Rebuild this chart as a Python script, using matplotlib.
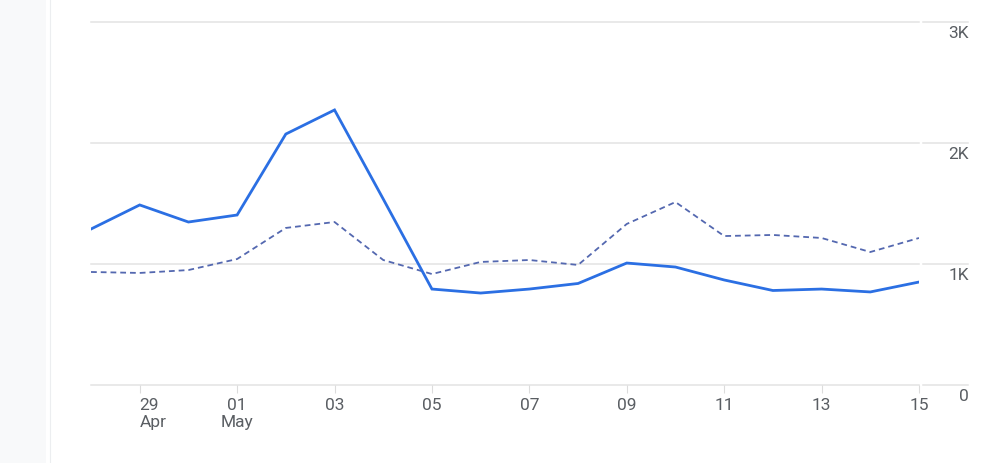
import matplotlib
matplotlib.use("Agg")
import matplotlib.pyplot as plt
import matplotlib.transforms as mtransforms
from matplotlib.patches import Rectangle

dates = ["Apr 28", "Apr 29", "Apr 30", "May 01", "May 02", "May 03", "May 04", "May 05",
         "May 06", "May 07", "May 08", "May 09", "May 10", "May 11", "May 12", "May 13",
         "May 14", "May 15"]
current = [1289, 1488, 1347, 1405, 2074, 2273, 1537, 793, 760, 793, 839, 1008, 975,
           868, 781, 793, 769, 851]
previous = [934, 926, 950, 1041, 1298, 1347, 1033, 917, 1017, 1033, 992, 1331, 1512,
            1231, 1240, 1215, 1099, 1215]
xtick_idx = [1, 3, 5, 7, 9, 11, 13, 15, 17]
xtick_labels = ["29\nApr", "01\nMay", "03", "05", "07", "09", "11", "13", "15"]
ytick_vals = [0, 1000, 2000, 3000]
ytick_labels = ["0", "1K", "2K", "3K"]

W, H = 1000, 464
fig = plt.figure(figsize=(W / 100, H / 100), dpi=100)
fig.patch.set_facecolor("white")

# left side panel
fig.patches.append(Rectangle((0, 0), 46 / W, 1, transform=fig.transFigure,
                             facecolor="#f8f9fa", edgecolor="none", zorder=0))
fig.lines.append(plt.Line2D([49.5 / W, 49.5 / W], [0, 1], transform=fig.transFigure,
                            color="#eceef0", lw=0.8))

left, right = 91, 919
y0px, y3px = 386, 23
ax = fig.add_axes([left / W, 1 - y0px / H, (right - left) / W, (y0px - y3px) / H])
ax.set_xlim(0, len(dates) - 1)
ax.set_ylim(0, 3000)
for s in ax.spines.values():
    s.set_visible(False)
ax.set_facecolor("none")

grid_c = "#e3e3e3"
xs = list(range(len(dates)))
trans = mtransforms.blended_transform_factory(fig.transFigure, ax.transData)
for v in ytick_vals:
    ax.axhline(v, color=grid_c, lw=1.1, zorder=1, clip_on=False)
    ax.plot([923 / W, 968 / W], [v, v], transform=trans, color=grid_c, lw=1.1,
            clip_on=False, zorder=1)

ax.plot(xs, previous, color="#5468b0", lw=1.3, dashes=(3.2, 2.2), zorder=2,
        solid_capstyle="butt")
ax.plot(xs, current, color="#2b6fe3", lw=2.0, zorder=3, solid_joinstyle="miter")

ax.set_xticks(xtick_idx)
ax.set_xticklabels(xtick_labels, fontsize=12.5, color="#5a5e63", linespacing=1.1,
                   family="Roboto")
ax.tick_params(axis="x", length=6, width=0.8, color="#dcdcdc", pad=3)
first = ax.get_xticklabels()[0]
first.set_horizontalalignment("left")
first.set_multialignment("left")
ax.set_yticks([])

# y labels on the right
off = mtransforms.ScaledTranslation(0, -11 / 100, fig.dpi_scale_trans)
for v, lab in zip(ytick_vals, ytick_labels):
    ax.text(969 / W, v, lab, transform=trans + off, ha="right", va="center",
            fontsize=12.5, color="#5a5e63", family="Roboto")

fig.savefig("out.png", dpi=100)
